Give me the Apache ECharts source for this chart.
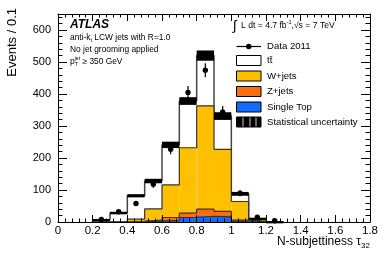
<!DOCTYPE html>
<html>
<head>
<meta charset="utf-8">
<script src="https://cdn.jsdelivr.net/npm/echarts@6/dist/echarts.min.js"></script>
<style>
html,body{margin:0;padding:0;background:#fff;}
#chart{width:390px;height:265px;}
</style>
</head>
<body>
<div id="chart"></div>
<script>
// ---- data ----
const binLow     = [0.2, 0.3, 0.4, 0.5, 0.6, 0.7, 0.8, 0.9, 1.0, 1.1, 1.2];
const binWidth   = 0.1;
const singleTop  = [0, 0, 1, 3, 5, 14, 18, 16, 3, 1, 0];
const zJets      = [0, 0, 1, 3, 9, 14, 22, 17, 3, 1, 0];
const wJets      = [0, 0, 7, 35, 102, 204, 323, 194, 58, 6, 0];
const ttbar      = [7, 28, 73, 87, 125, 146, 157, 104, 24, 3, 1];
const statUnc    = [2, 4, 5, 7, 10, 12, 16, 12, 6, 2, 1];
const dataX      = [0.25, 0.35, 0.45, 0.55, 0.65, 0.75, 0.85, 0.95, 1.05, 1.15, 1.25];
const dataY      = [8, 32, 58, 118, 227, 405, 474, 344, 90, 15, 4];
const xTicks     = [0, 0.2, 0.4, 0.6, 0.8, 1, 1.2, 1.4, 1.6, 1.8];
const yTicks     = [0, 100, 200, 300, 400, 500, 600];

const legendNames = ['Data 2011', 't\u0074\u0304', 'W+jets', 'Z+jets', 'Single Top', 'Statistical uncertainty'];
const colors = { tt: '#ffffff', w: '#ffc000', z: '#ff6c0a', st: '#0f6cff', stat: '#000000', line: '#333333' };

// ---- derived stacks (cumulative, drawn from zero like ROOT THStack) ----
const cumST = singleTop.map(v => v);
const cumZ  = cumST.map((v, i) => v + zJets[i]);
const cumW  = cumZ.map((v, i) => v + wJets[i]);
const cumT  = cumW.map((v, i) => v + ttbar[i]);

const FONT = '"Liberation Sans", Arial, Helvetica, sans-serif';

function histFill(cum, color, z) {
  return {
    type: 'custom', z: z, silent: true,
    data: binLow.map((x, i) => [x, x + binWidth, cum[i]]),
    renderItem: function (params, api) {
      const p0 = api.coord([api.value(0), 0]);
      const p1 = api.coord([api.value(1), api.value(2)]);
      return { type: 'rect', shape: { x: p0[0], y: p1[1], width: p1[0] - p0[0], height: p0[1] - p1[1] },
               style: { fill: color, stroke: null } };
    }
  };
}
function histLine(cum, z, w, c) {
  const pts = [[binLow[0], 0]];
  binLow.forEach((x, i) => pts.push([x, cum[i]]));
  pts.push([binLow[binLow.length - 1] + binWidth, 0]);
  return { type: 'line', z: z, step: 'end', data: pts, showSymbol: false, silent: true,
           lineStyle: { color: c || colors.line, width: w || 1.2 } };
}

const series = [
  histFill(cumT, colors.tt, 2), histLine(cumT, 3, 1.5, '#444'),
  histFill(cumW, colors.w, 4), histLine(cumW, 5),
  histFill(cumZ, colors.z, 6), histLine(cumZ, 7),
  histFill(cumST, colors.st, 8), histLine(cumST, 9),
  { type: 'custom', z: 10, silent: true,
    data: binLow.map((x, i) => [x, x + binWidth, cumT[i] - statUnc[i], cumT[i] + statUnc[i]]),
    renderItem: function (params, api) {
      const a = api.coord([api.value(0), api.value(3)]);
      const b = api.coord([api.value(1), api.value(2)]);
      return { type: 'rect', shape: { x: a[0], y: a[1], width: b[0] - a[0], height: Math.max(b[1] - a[1], 2) },
               style: { fill: colors.stat } };
    } },
  { type: 'custom', z: 11, silent: true,
    data: dataX.map((x, i) => [x, dataY[i], Math.sqrt(dataY[i])]),
    renderItem: function (params, api) {
      const c = api.coord([api.value(0), api.value(1)]);
      const lo = api.coord([api.value(0), Math.max(0, api.value(1) - api.value(2))]);
      const hi = api.coord([api.value(0), api.value(1) + api.value(2)]);
      return { type: 'group', children: [
        { type: 'line', shape: { x1: c[0], y1: lo[1], x2: c[0], y2: hi[1] }, style: { stroke: '#000', lineWidth: 1.2 } },
        { type: 'circle', shape: { cx: c[0], cy: c[1], r: 2.7 }, style: { fill: '#000' } }
      ] };
    } }
];

// ---- text helpers ----
const mctx = document.createElement('canvas').getContext('2d');
function fontStr(s, bold, italic) { return (italic ? 'italic ' : '') + (bold ? 'bold ' : '') + s + 'px ' + FONT; }
function tw(t, s, bold, italic) { mctx.font = fontStr(s, bold, italic); return mctx.measureText(t).width; }
function txt(x, y, t, s, o) {
  o = o || {};
  return { type: 'text', x: x, y: y, z: 100, rotation: o.rot || 0, silent: true,
           style: { text: t, font: fontStr(s, o.bold, o.italic), fill: '#000', align: o.align || 'left', verticalAlign: 'middle' } };
}
function seq(x, y, parts) {
  const out = [];
  parts.forEach(p => {
    if (p.sub !== undefined || p.sup !== undefined) {
      let w = 0;
      if (p.sup) { out.push(txt(x, y + p.dsup, p.sup, p.s)); w = Math.max(w, tw(p.sup, p.s)); }
      if (p.sub) { out.push(txt(x, y + p.dsub, p.sub, p.s)); w = Math.max(w, tw(p.sub, p.s)); }
      x += w;
    } else {
      out.push(txt(x, y + (p.dy || 0), p.t, p.s, p));
      x += tw(p.t, p.s, p.bold, p.italic);
    }
  });
  return out;
}

const graphics = [];
const fs = 8.4;
graphics.push(...seq(70, 25, [{ t: 'ATLAS', s: 12, bold: true, italic: true }]));
graphics.push(...seq(70, 38, [{ t: 'anti-k', s: fs }, { sub: 't', s: 5.5, dsub: 2.4 }, { t: ' LCW jets with R=1.0', s: fs }]));
graphics.push(...seq(70, 49.5, [{ t: 'No jet grooming applied', s: fs }]));
graphics.push(...seq(70, 61.5, [{ t: 'p', s: fs }, { sub: 'T', sup: 'jet', s: 5.2, dsub: 2.8, dsup: -2.8 }, { t: ' \u2265 350 GeV', s: fs }]));

// luminosity label
graphics.push(txt(233, 26, '\u222B', 14));
graphics.push(...seq(241, 26, [{ t: 'L dt = 4.7 fb', s: 8.6 }, { sup: '-1', s: 5.5, dsup: -3.2 }, { t: ',\u221As = 7 TeV', s: 8.6 }]));

// legend
const legX0 = 236.5, legX1 = 261, legText = 267;
const legY = [46.5, 60.5, 76, 91.5, 107, 122];
graphics.push({ type: 'line', z: 100, shape: { x1: legX0, y1: legY[0], x2: legX1, y2: legY[0] }, style: { stroke: '#000', lineWidth: 1.2 } });
graphics.push({ type: 'circle', z: 101, shape: { cx: (legX0 + legX1) / 2, cy: legY[0], r: 2.7 }, style: { fill: '#000' } });
const boxFills = [colors.tt, colors.w, colors.z, colors.st, colors.stat];
boxFills.forEach((f, i) => {
  graphics.push({ type: 'rect', z: 100, shape: { x: legX0, y: legY[i + 1] - 5, width: legX1 - legX0, height: 10 },
                  style: { fill: f, stroke: '#000', lineWidth: 1 } });
});
[243, 250, 256].forEach(xx => graphics.push({ type: 'line', z: 101, shape: { x1: xx, y1: legY[5] - 4.5, x2: xx, y2: legY[5] + 4.5 }, style: { stroke: '#fff', lineWidth: 0.8 } }));
legendNames.forEach((n, i) => graphics.push(txt(legText, legY[i], n, 9.6)));

// axis titles
graphics.push(txt(12, 8, 'Events / 0.1', 13, { rot: Math.PI / 2, align: 'right' }));
graphics.push(txt(361, 241.5, 'N-subjettiness \u03C4', 12, { align: 'right' }));
graphics.push(txt(361, 246, '32', 8));

const chart = echarts.init(document.getElementById('chart'), null, { renderer: 'canvas' });

function xAx(pos, labels) {
  return {
    type: 'value', position: pos, min: 0, max: 1.8, interval: 0.2, z: 20,
    axisLine: { show: true, onZero: false, lineStyle: { color: '#000', width: 1 } },
    axisTick: { show: true, inside: true, length: 7, lineStyle: { color: '#000' } },
    minorTick: { show: true, splitNumber: 5, length: 3.5, lineStyle: { color: '#000' } },
    splitLine: { show: false },
    axisLabel: { show: labels, color: '#000', fontSize: 11.5, fontFamily: FONT, margin: 3,
                 formatter: v => xTicks.some(t => Math.abs(t - v) < 1e-6) ? String(+v.toFixed(1)) : '' }
  };
}
function yAx(pos, interval, len, labels, line) {
  return {
    type: 'value', position: pos, min: 0, max: 650, interval: interval, z: 20,
    axisLine: { show: line, onZero: false, lineStyle: { color: '#000', width: 1 } },
    axisTick: { show: true, inside: true, length: len, lineStyle: { color: '#000' } },
    splitLine: { show: false },
    axisLabel: { show: labels, color: '#000', fontSize: 11, fontFamily: FONT, margin: 7,
                 formatter: v => yTicks.indexOf(Math.round(v)) >= 0 && Math.abs(v - Math.round(v)) < 1e-6 ? String(Math.round(v)) : '' }
  };
}

chart.setOption({
  animation: false,
  backgroundColor: '#fff',
  grid: { left: 58, right: 20, top: 14, bottom: 43, show: false },
  xAxis: [xAx('bottom', true), xAx('top', false)],
  yAxis: [yAx('left', 100, 9, true, true), yAx('left', 20, 4.5, false, false),
          yAx('right', 100, 9, false, true), yAx('right', 20, 4.5, false, false)],
  series: series,
  graphic: graphics
});
</script>
</body>
</html>
